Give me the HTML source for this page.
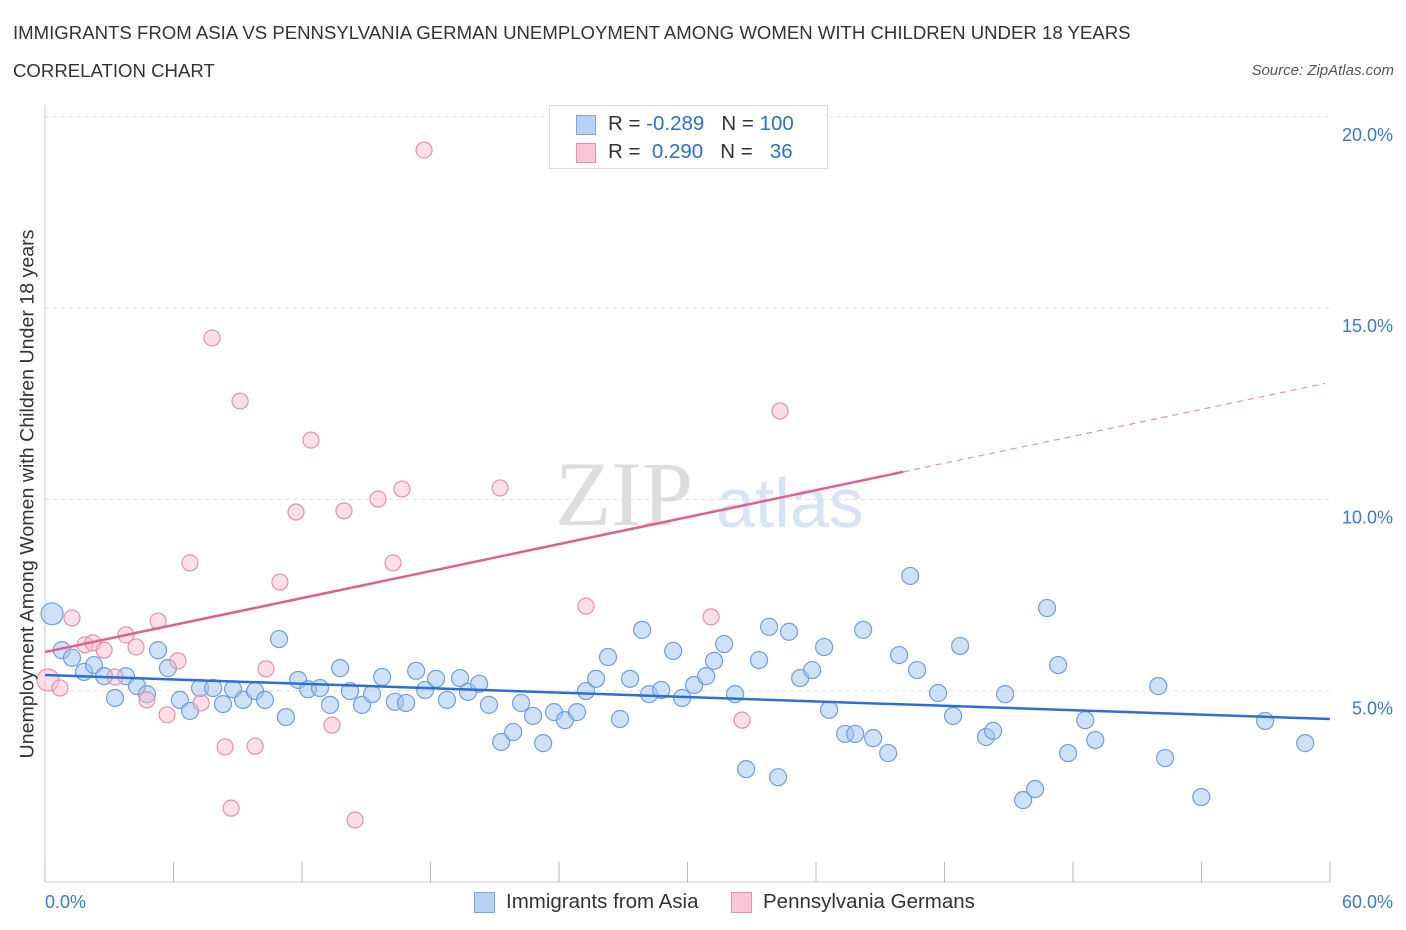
<!DOCTYPE html>
<html><head><meta charset="utf-8">
<style>
body{margin:0;background:#fff;font-family:"Liberation Sans",sans-serif;}
#wrap{position:relative;width:1406px;height:930px;overflow:hidden;}
.t{position:absolute;white-space:nowrap;}
</style></head>
<body>
<div id="wrap">
<div class="t" style="left:13px;top:22px;font-size:18.6px;color:#333;">IMMIGRANTS FROM ASIA VS PENNSYLVANIA GERMAN UNEMPLOYMENT AMONG WOMEN WITH CHILDREN UNDER 18 YEARS</div>
<div class="t" style="left:13px;top:60px;font-size:18.6px;color:#333;">CORRELATION CHART</div>
<div class="t" style="right:12px;top:62px;font-size:15px;color:#555;font-style:italic;">Source: ZipAtlas.com</div>
<svg id="plot" width="1406" height="930" style="position:absolute;left:0;top:0">
<text x="555" y="525" font-family="Liberation Serif" font-size="92" fill="#ddd">ZIP</text>
<text x="716" y="527" font-family="Liberation Sans" font-size="70" fill="#d6e4f5">atlas</text>
</svg>
<div class="t" style="left:28px;top:494px;font-size:19.6px;color:#333;transform:translate(-50%,-50%) rotate(-90deg);">Unemployment Among Women with Children Under 18 years</div>
<div style="position:absolute;left:549px;top:105px;width:277px;height:62px;border:1px solid #ddd;background:#fff;font-size:20.5px;color:#333;">
 <div style="position:absolute;left:26px;top:9px;width:18px;height:18px;background:#b8d2f5;border:1px solid #7aa6e0;"></div>
 <div class="t" style="left:58px;top:6px;">R = <span style="color:#2a6fd6">-0.289</span> &nbsp;&nbsp;N = <span style="color:#2a6fd6">100</span></div>
 <div style="position:absolute;left:26px;top:37px;width:18px;height:18px;background:#f9c6d4;border:1px solid #e890ab;"></div>
 <div class="t" style="left:58px;top:34px;">R = &nbsp;<span style="color:#2a6fd6">0.290</span> &nbsp;&nbsp;N = &nbsp;&nbsp;<span style="color:#2a6fd6">36</span></div>
</div>
<div style="position:absolute;left:474px;top:890px;font-size:20.5px;color:#333;">
 <div style="position:absolute;left:0;top:2px;width:19px;height:19px;background:#b8d2f5;border:1px solid #7aa6e0;"></div>
 <div class="t" style="left:32px;top:0;">Immigrants from Asia</div>
 <div style="position:absolute;left:257px;top:2px;width:19px;height:19px;background:#f9c6d4;border:1px solid #e890ab;"></div>
 <div class="t" style="left:289px;top:0;">Pennsylvania Germans</div>
</div>
</div>
<script>
const asiaX=[0.33,0.79,1.26,1.82,2.29,2.76,3.27,3.78,4.30,4.76,5.28,5.74,6.30,6.77,7.24,7.85,8.31,8.78,9.25,9.81,10.27,10.93,11.25,11.82,12.28,12.84,13.31,13.78,14.24,14.80,15.27,15.74,16.34,16.86,17.33,17.75,18.26,18.77,19.38,19.75,20.27,20.73,21.30,21.86,22.23,22.79,23.26,23.77,24.28,24.84,25.26,25.73,26.29,26.85,27.32,27.88,28.21,28.77,29.33,29.75,30.31,30.87,31.24,31.71,32.22,32.74,33.34,33.81,34.23,34.74,35.26,35.82,36.38,36.61,37.36,37.83,38.20,38.67,39.37,39.88,40.40,40.72,41.70,42.40,42.73,43.94,44.27,44.83,45.67,46.23,46.79,47.31,47.77,48.57,49.04,51.98,52.30,53.99,56.97,58.84];
const asiaY=[7.01,6.06,5.86,5.49,5.67,5.38,4.81,5.38,5.12,4.91,6.06,5.59,4.76,4.47,5.07,5.07,4.65,5.04,4.76,4.99,4.76,6.35,4.31,5.28,5.04,5.07,4.63,5.59,4.99,4.63,4.91,5.36,4.71,4.68,5.52,5.02,5.31,4.76,5.33,4.97,5.18,4.63,3.66,3.92,4.68,4.34,3.63,4.44,4.23,4.44,4.99,5.31,5.88,4.26,5.31,6.59,4.91,5.02,6.04,4.81,5.15,5.38,5.78,6.22,4.91,2.95,5.80,6.67,2.74,6.54,5.33,5.54,6.14,4.50,3.87,3.87,6.59,3.76,3.37,5.93,8.00,5.54,4.94,4.34,6.17,3.79,3.95,4.91,2.14,2.43,7.16,5.67,3.37,4.23,3.71,5.12,3.24,2.22,4.21,3.63];
const pgX=[0.14,0.70,1.26,1.87,2.24,2.76,3.27,3.78,4.25,4.76,5.28,5.70,6.21,6.77,7.29,7.80,8.41,9.11,9.81,10.32,10.97,11.72,12.42,13.40,13.96,14.48,15.55,16.25,16.67,17.70,21.25,25.26,31.10,32.55,34.32,8.69];
const pgY=[5.28,5.07,6.90,6.20,6.25,6.06,5.36,6.46,6.14,4.76,6.82,4.37,5.78,8.34,4.68,14.22,3.53,12.57,3.55,5.57,7.84,9.67,11.55,4.10,9.70,1.62,10.01,8.34,10.27,19.13,10.30,7.21,6.93,4.23,12.31,1.93];
const asiaTrendX=[0,60];
const asiaTrendY=[5.41,4.26];
const pgTrendX=[0,40.07,59.77];
const pgTrendY=[6.01,10.72,13.03];
const yTicks=[5,10,15,20];
const yTickLabels=["5.0%","10.0%","15.0%","20.0%"];
const xTicks=[0,6,12,18,24,30,36,42,48,54,60];

const NS="http://www.w3.org/2000/svg";
const svg=document.getElementById('plot');
const sx=v=>45+v/60*1285;
const sy=v=>882-v/5*191.3;
function mk(tag,attrs){const e=document.createElementNS(NS,tag);for(const k in attrs)e.setAttribute(k,attrs[k]);svg.appendChild(e);return e;}
yTicks.forEach((t,i)=>{
  const g=mk('line',{x1:45,x2:1330,y1:sy(t),y2:sy(t),stroke:'#ddd','stroke-dasharray':'4,4'});
  
  
  const l=mk('text',{x:1393,y:sy(t)+24,'text-anchor':'end','font-size':18,fill:'#3b78d8','font-family':'Liberation Sans'});
  l.textContent=yTickLabels[i];
  
  
});
const ax=mk('line',{x1:45,x2:45,y1:105,y2:882,stroke:'#ccc'});


const bx=mk('line',{x1:45,x2:1330,y1:882,y2:882,stroke:'#ccc'});


xTicks.forEach(t=>{
  const k=mk('line',{x1:sx(t),x2:sx(t),y1:862,y2:882,stroke:'#bbb'});
  
  
});
[[xTicks[0],'start',45],[xTicks[xTicks.length-1],'end',1393]].forEach(([v,a,x])=>{
  const l=mk('text',{x:x,y:908,'text-anchor':a,'font-size':18,fill:'#3b78d8','font-family':'Liberation Sans'});
  l.textContent=v.toFixed(1)+'%';
  
  
});
function dot(x,y,r,fill,stroke,name){
  const c=mk('circle',{cx:sx(x),cy:sy(y),r:r,fill:fill,stroke:stroke,'stroke-width':1.2});
  
  
}
asiaX.forEach((x,i)=>dot(x,asiaY[i],i===0?11:8.5,'rgba(160,195,240,0.5)','#6e9fe0','asia-point'));
pgX.forEach((x,i)=>dot(x,pgY[i],i===0?11:8,'rgba(248,185,205,0.45)','#e890ab','pg-point'));
const bl=mk('line',{x1:sx(asiaTrendX[0]),y1:sy(asiaTrendY[0]),x2:sx(asiaTrendX[1]),y2:sy(asiaTrendY[1]),stroke:'#2a6fd6','stroke-width':2.5});


const pl=mk('line',{x1:sx(pgTrendX[0]),y1:sy(pgTrendY[0]),x2:sx(pgTrendX[1]),y2:sy(pgTrendY[1]),stroke:'#e0608f','stroke-width':2.5});


const pd=mk('line',{x1:sx(pgTrendX[1]),y1:sy(pgTrendY[1]),x2:sx(pgTrendX[2]),y2:sy(pgTrendY[2]),stroke:'#e890ab','stroke-width':1.2,'stroke-dasharray':'6,5'});


</script>
</body></html>
